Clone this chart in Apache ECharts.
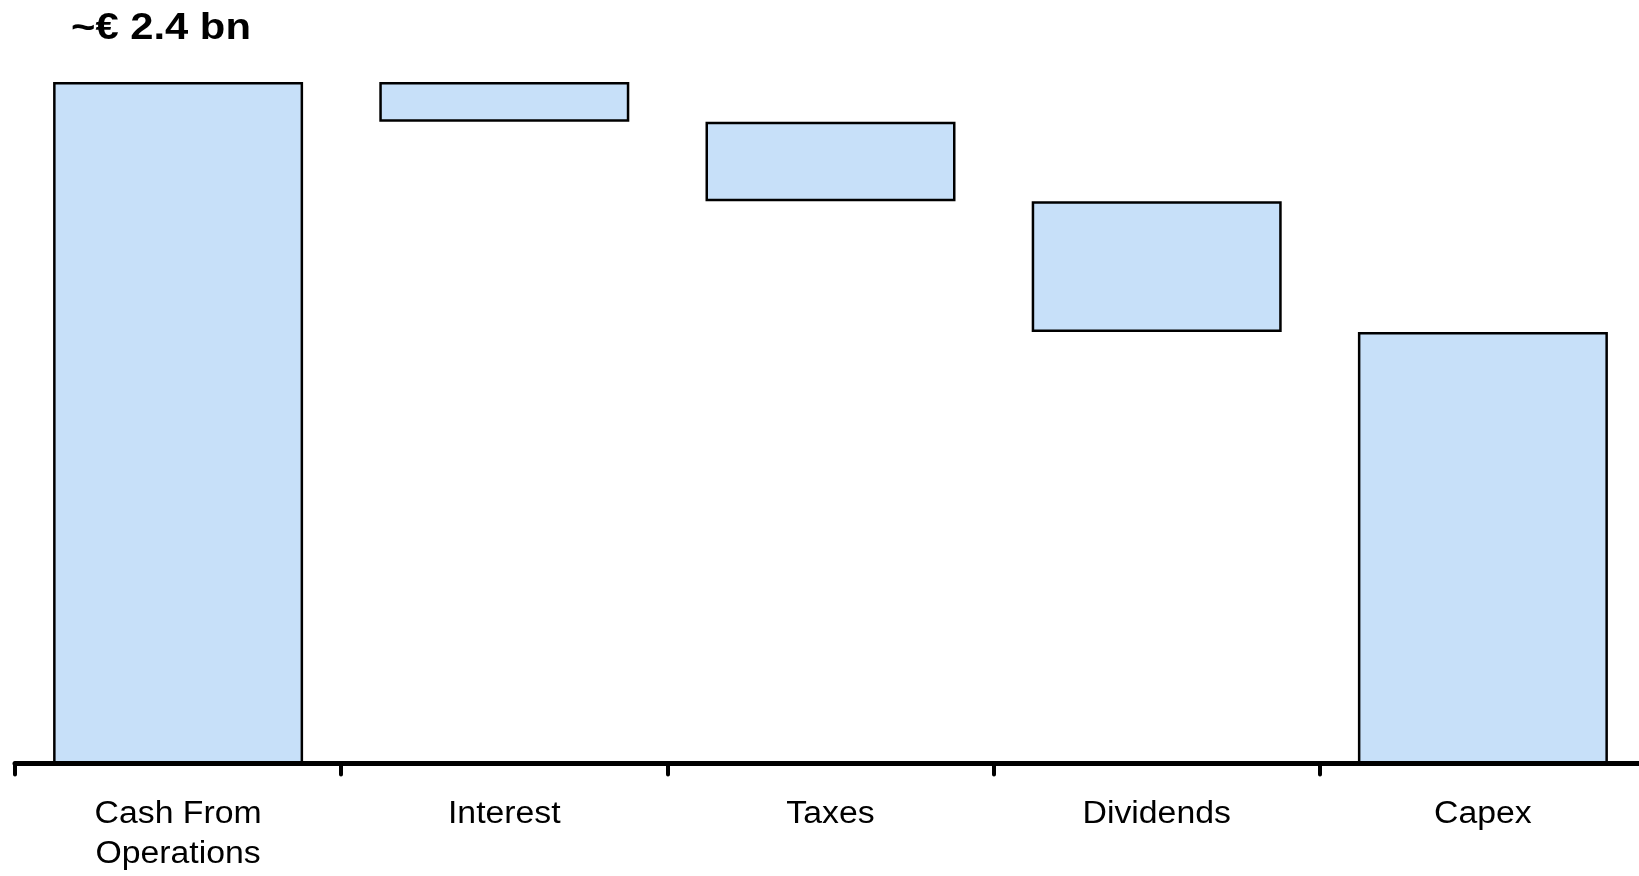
<!DOCTYPE html>
<html>
<head>
<meta charset="utf-8">
<title>Cash flow waterfall</title>
<script src="https://cdn.jsdelivr.net/npm/echarts@6/dist/echarts.min.js"></script>
<style>
  html, body { margin: 0; padding: 0; background: #ffffff; }
  #chart { width: 1639px; height: 876px; }
</style>
</head>
<body>
<div id="chart"></div>
<script>
// Cash flow bridge, € bn
const categories = ['Cash From\nOperations', 'Interest', 'Taxes', 'Dividends', 'Capex'];
const amounts = [2.4, 0.14, 0.28, 0.46, 1.52];
// 'total' bars start at zero, 'step' bars hang from the running balance
const kinds = ['total', 'step', 'step', 'step', 'total'];
const headline = '~€ 2.4 bn';

const FONT = 'Liberation Sans, Arial, Helvetica, sans-serif';

// Invisible offsets that lift each step bar to the running balance
const offsets = [];
let running = 0;
amounts.forEach((v, i) => {
  if (kinds[i] === 'total') {
    offsets.push(0);
    running = v;
  } else {
    running -= v;
    offsets.push(running);
  }
});

const chart = echarts.init(document.getElementById('chart'));
chart.setOption({
  animation: false,
  backgroundColor: '#ffffff',
  grid: {
    left: 15,
    top: 53.6,
    right: -7,
    bottom: 112.5,
    containLabel: false,
    outerBoundsMode: 'none'
  },
  xAxis: {
    type: 'category',
    data: categories,
    boundaryGap: true,
    axisLine: { lineStyle: { color: '#000000', width: 5 } },
    axisTick: { show: true, length: 11, lineStyle: { color: '#000000', width: 4, cap: 'round' } },
    axisLabel: { show: false }
  },
  yAxis: {
    type: 'value',
    min: 0,
    max: 2.5,
    show: false,
    splitLine: { show: false }
  },
  series: [
    {
      type: 'bar',
      stack: 'flow',
      data: offsets,
      barWidth: 250,
      itemStyle: { color: 'rgba(0,0,0,0)', borderWidth: 0 },
      silent: true
    },
    {
      type: 'bar',
      stack: 'flow',
      data: amounts,
      barWidth: 250,
      itemStyle: {
        color: '#c7e0f9',
        borderColor: '#000000',
        borderWidth: 2.5
      }
    }
  ]
});

// Category names and headline as text set in a slightly widened face,
// each name centred under its category on the axis
const axisY = chart.convertToPixel({ yAxisIndex: 0 }, 0);
const graphics = categories.map((name, i) => ({
  type: 'text',
  x: chart.convertToPixel({ xAxisIndex: 0 }, i),
  y: axisY + 30.5,
  scaleX: 1.09,
  silent: true,
  style: {
    text: name,
    x: 0,
    y: 0,
    align: 'center',
    verticalAlign: 'top',
    font: '31px ' + FONT,
    lineHeight: 40,
    fill: '#000000'
  }
}));
graphics.push({
  type: 'text',
  x: 71,
  y: 29,
  scaleX: 1.16,
  silent: true,
  style: {
    text: headline,
    x: 0,
    y: 0,
    align: 'left',
    verticalAlign: 'middle',
    font: 'bold 36px ' + FONT,
    fill: '#000000'
  }
});
chart.setOption({ graphic: graphics });
</script>
</body>
</html>
